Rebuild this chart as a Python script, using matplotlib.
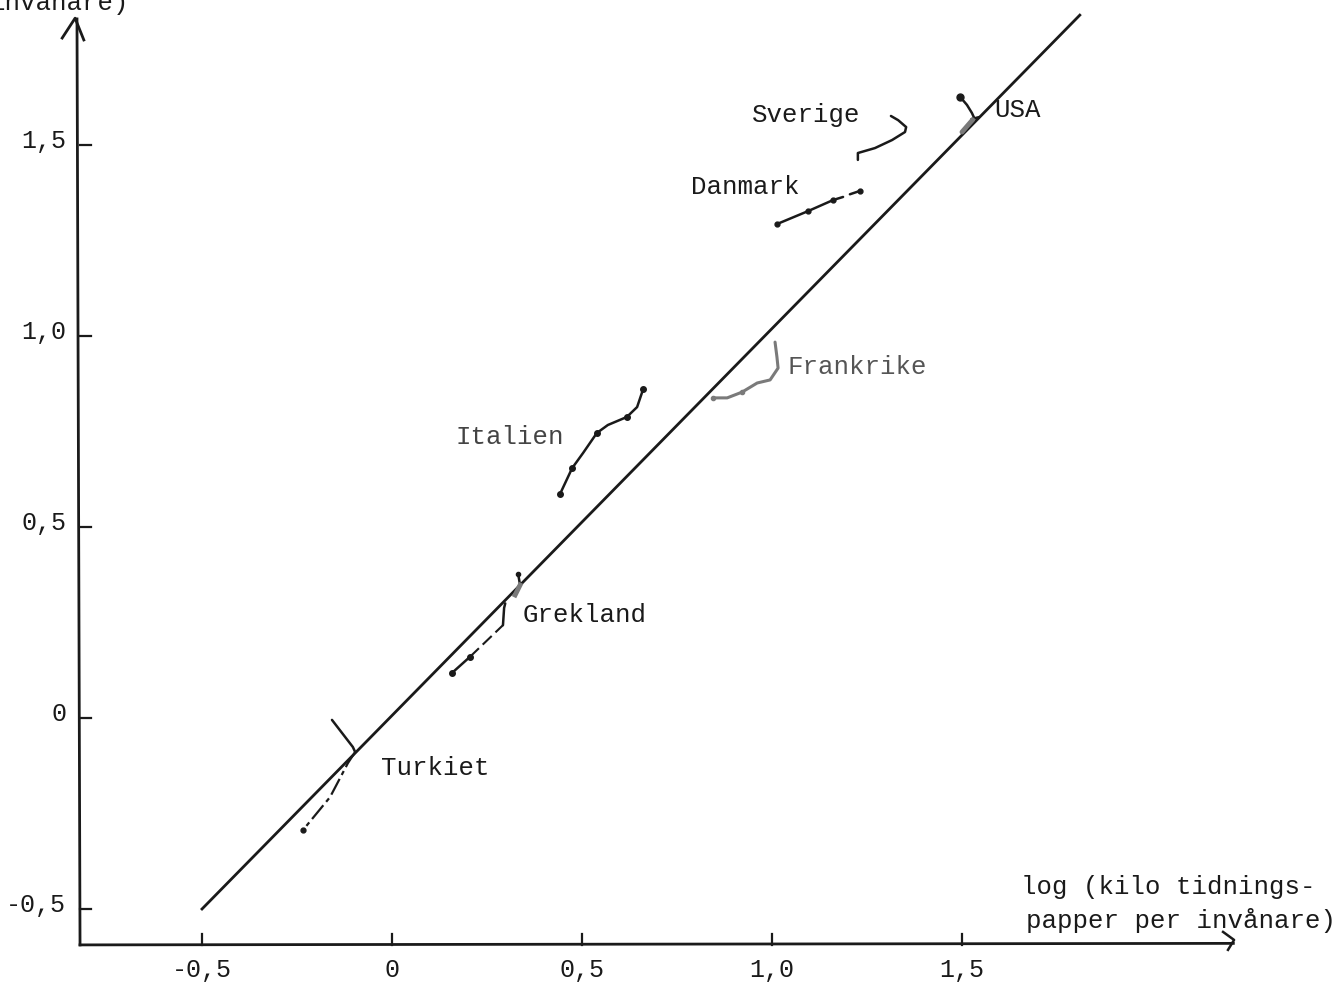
import numpy as np
import matplotlib.pyplot as plt

plt.rcParams['font.family'] = ['Liberation Mono', 'DejaVu Sans Mono']

# tick values and labels (Swedish decimal comma)
x_ticks = [-0.5, 0.0, 0.5, 1.0, 1.5]
x_tick_labels = ['-0,5', '0', '0,5', '1,0', '1,5']
y_ticks = [-0.5, 0.0, 0.5, 1.0, 1.5]
y_tick_labels = ['-0,5', '0', '0,5', '1,0', '1,5']

# fitted line
diag_x = [-0.5, 1.81]
diag_y = [-0.5, 1.84]

# country trajectories
sverige_x = [1.226, 1.226, 1.271, 1.316, 1.350, 1.353, 1.332, 1.313]
sverige_y = [1.461, 1.479, 1.492, 1.513, 1.534, 1.547, 1.565, 1.576]

danmark_x = [1.013, 1.095, 1.161, 1.187]
danmark_y = [1.293, 1.327, 1.356, 1.364]
danmark2_x = [1.205, 1.232]
danmark2_y = [1.371, 1.380]

usa_x = [1.495, 1.513, 1.526, 1.532]
usa_y = [1.626, 1.605, 1.584, 1.571]
usa2_x = [1.525, 1.545]
usa2_y = [1.568, 1.573]
usa3_x = [1.528, 1.500]
usa3_y = [1.566, 1.534]

frankrike_x = [0.845, 0.882, 0.921, 0.961, 0.995, 1.016, 1.013, 1.008]
frankrike_y = [0.838, 0.838, 0.853, 0.877, 0.885, 0.916, 0.945, 0.984]

italien_x = [0.442, 0.474, 0.503, 0.539, 0.568, 0.618, 0.645, 0.661]
italien_y = [0.586, 0.654, 0.694, 0.746, 0.767, 0.788, 0.814, 0.861]

grekland_x = [0.158, 0.205]
grekland_y = [0.118, 0.160]
grekland_dash_x = [0.205, 0.292]
grekland_dash_y = [0.160, 0.243]
grekland_up_x = [0.292, 0.295, 0.298]
grekland_up_y = [0.243, 0.288, 0.300]
grekland_top_x = [0.332, 0.337, 0.324]
grekland_top_y = [0.377, 0.348, 0.322]

turkiet_x = [-0.158, -0.103, -0.097]
turkiet_y = [-0.005, -0.076, -0.089]
turkiet_dash_x = [-0.097, -0.116, -0.163, -0.234]
turkiet_dash_y = [-0.089, -0.118, -0.207, -0.293]

fig = plt.figure(figsize=(13.42, 9.86), dpi=100)
ax = fig.add_axes([0, 0, 1, 1])
ax.set_xlim(-1.0316, 2.5)
ax.set_ylim(-0.7016, 1.8796)
ax.axis('off')

ink = '#1a1a1a'
grey = '#7a7a7a'

# hand drawn axes
x0, y0 = -0.821, -0.594
ax.plot([x0, 2.214], [y0, y0 + 0.004], color=ink, lw=2.0)
ax.plot([x0, x0 - 0.008], [y0, 1.83], color=ink, lw=2.0)
ax.plot([-0.868, -0.834, -0.811], [1.780, 1.832, 1.775], color=ink, lw=2.0)
ax.plot([2.187, 2.216, 2.200], [-0.560, -0.581, -0.607], color=ink, lw=1.8)

for t, lab in zip(x_ticks, x_tick_labels):
    ax.plot([t, t], [y0, y0 + 0.028], color=ink, lw=1.6)
    ax.text(t, -0.660, lab, ha='center', va='center', fontsize=18, color=ink)
for t, lab in zip(y_ticks, y_tick_labels):
    ax.plot([x0, x0 + 0.028], [t, t], color=ink, lw=1.6)
    ax.text(-0.857, t + 0.01, lab, ha='right', va='center', fontsize=18, color=ink)

# regression line
ax.plot(diag_x, diag_y, color=ink, lw=2.0)

# trajectories
kw = dict(color=ink, lw=1.8, solid_capstyle='round')
ax.plot(sverige_x, sverige_y, **kw)
ax.plot(danmark_x, danmark_y, marker='o', ms=3.5, markevery=[0, 1, 2], **kw)
ax.plot(danmark2_x, danmark2_y, marker='o', ms=3.5, markevery=[1], **kw)
ax.plot(usa_x, usa_y, marker='o', ms=5, markevery=[0], **kw)
ax.plot(usa2_x, usa2_y, **kw)
ax.plot(usa3_x, usa3_y, color=grey, lw=3.5, solid_capstyle='round')
ax.plot(frankrike_x, frankrike_y, color=grey, lw=2.2, marker='o', ms=3,
        markevery=[0, 2], solid_capstyle='round')
ax.plot(italien_x, italien_y, marker='o', ms=4, markevery=[0, 1, 3, 5, 7], **kw)
ax.plot(grekland_x, grekland_y, marker='o', ms=4, **kw)
ax.plot(grekland_dash_x, grekland_dash_y, color=ink, lw=1.5, dashes=(6, 2.5))
ax.plot(grekland_up_x, grekland_up_y, **kw)
ax.plot(grekland_top_x[:2], grekland_top_y[:2], marker='o', ms=3, markevery=[0], **kw)
ax.plot(grekland_top_x[1:], grekland_top_y[1:], color=grey, lw=3.5)
ax.plot(turkiet_x, turkiet_y, **kw)
ax.plot(turkiet_dash_x, turkiet_dash_y, color=ink, lw=1.6, dashes=(8, 2, 2, 2),
        marker='o', ms=3.5, markevery=[3])

# country labels
tk = dict(fontsize=18.5, color=ink, va='center')
ax.text(1.089, 1.579, 'Sverige', ha='center', **tk)
ax.text(1.585, 1.592, 'USA', ha='left', **tk)
ax.text(0.929, 1.390, 'Danmark', ha='center', **tk)
ax.text(1.224, 0.919, 'Frankrike', ha='center', fontsize=18.5, color='#555555', va='center')
ax.text(0.311, 0.736, 'Italien', ha='center', fontsize=18.5, color='#444444', va='center')
ax.text(0.508, 0.270, 'Grekland', ha='center', **tk)
ax.text(0.113, -0.131, 'Turkiet', ha='center', **tk)

# axis titles
ax.text(1.655, -0.442, 'log (kilo tidnings-', ha='left', **tk)
ax.text(1.668, -0.529, 'papper per invånare)', ha='left', **tk)
fig.text(-0.008, 1 - 10 / 986, 'invånare)', ha='left', va='baseline',
         fontsize=18.5, color=ink)

fig.savefig('out.png', dpi=100, facecolor='white')
